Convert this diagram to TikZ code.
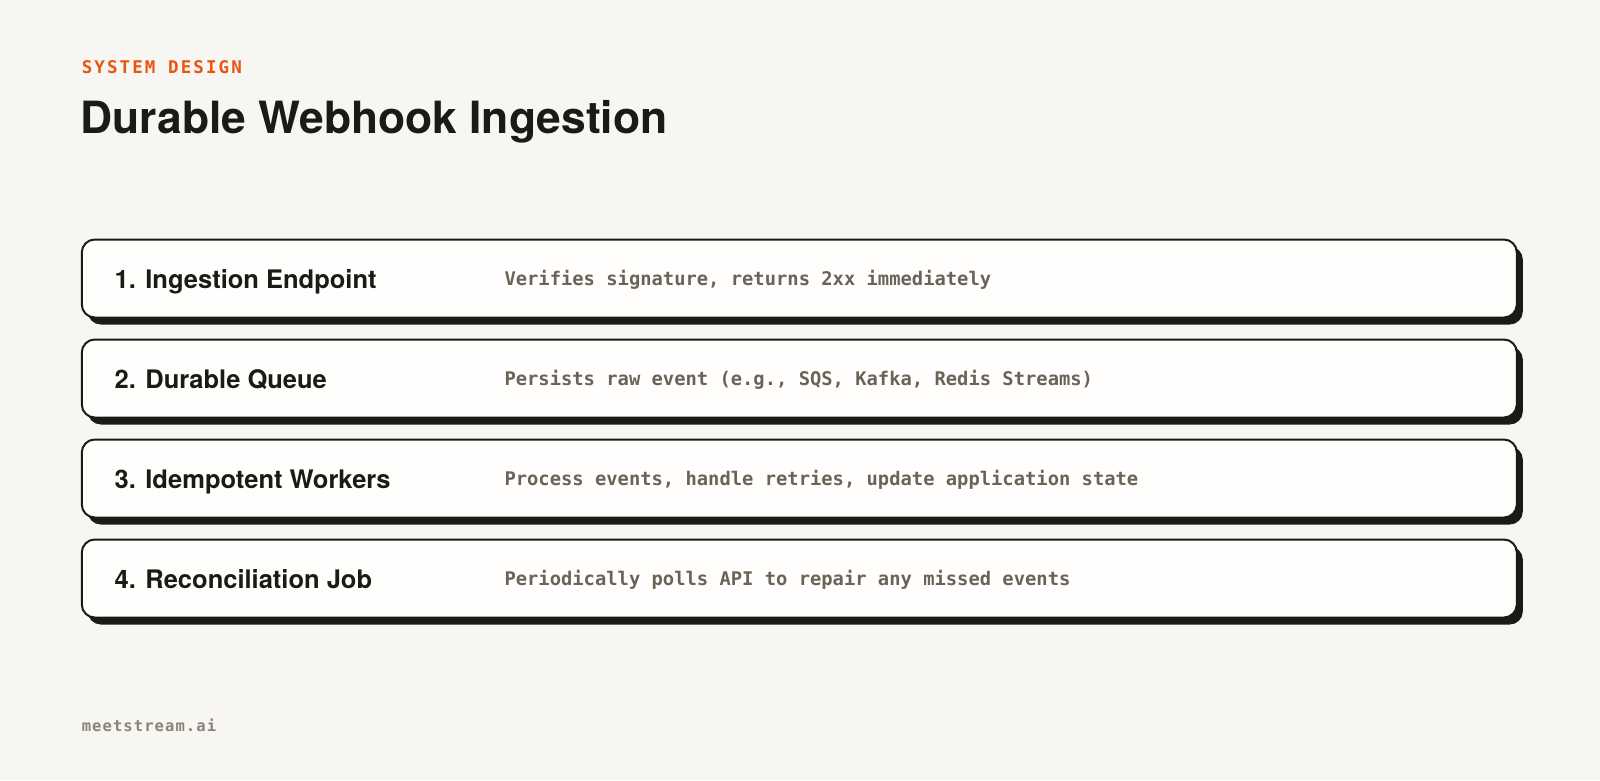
\documentclass[tikz,border=0pt]{standalone}
\usepackage{fontspec}
\usepackage{tikz}
\usetikzlibrary{shadows,positioning}
\setmainfont{TeX Gyre Heros}
\newfontfamily\headfont{TeX Gyre Heros}
\newfontfamily\codefont{DejaVu Sans Mono}
\newfontfamily\kickerfont[LetterSpace=12]{DejaVu Sans Mono}
\newfontfamily\footfont[LetterSpace=7]{DejaVu Sans Mono}
\definecolor{PageBg}{HTML}{F7F6F3}
\definecolor{CardFill}{HTML}{FFFEFC}
\definecolor{InkDark}{HTML}{1C1A16}
\definecolor{KickerOrange}{HTML}{E8560F}
\definecolor{DescGray}{HTML}{6B6358}
\definecolor{FootGray}{HTML}{8C8275}

\begin{document}
\begin{tikzpicture}[x=1pt,y=-1pt,
  stagecard/.style={draw=InkDark, line width=2pt, fill=CardFill, rounded corners=13pt,
    minimum width=1435pt, minimum height=78pt, inner sep=0pt,
    drop shadow={shadow xshift=6pt, shadow yshift=-7pt, opacity=1, fill=InkDark}},
  stagename/.style={anchor=base west, inner sep=0pt, text=InkDark, font=\headfont\bfseries\fontsize{25.5}{28}\selectfont},
  stagedesc/.style={anchor=base west, inner sep=0pt, text=DescGray, font=\codefont\bfseries\fontsize{18.8}{22}\selectfont}]
   \fill[PageBg] (0,0) rectangle (1600,780);
   \useasboundingbox (0,0) rectangle (1600,780);

   \node[anchor=base west, inner sep=0pt, text=KickerOrange, font=\kickerfont\bfseries\fontsize{17.5}{20}\selectfont] (kicker) at (81.6,73.5) {SYSTEM DESIGN};
   \node[anchor=base west, inner sep=0pt, text=InkDark, font=\headfont\bfseries\fontsize{44.4}{50}\selectfont] (title) at (80.5,133) {Durable Webhook Ingestion};

   \foreach \i/\name/\desc in {1/1. Ingestion Endpoint/{Verifies signature, returns 2xx immediately},
                               2/2. Durable Queue/{Persists raw event (e.g., SQS, Kafka, Redis Streams)},
                               3/3. Idempotent Workers/{Process events, handle retries, update application state},
                               4/4. Reconciliation Job/{Periodically polls API to repair any missed events}} {
    \node[stagecard] (card\i) at (799.3,{278.5+100*(\i-1)}) {};
    \node[stagename] (name\i) at ([xshift=33.7pt,yshift=-9.5pt]card\i.west) {\name};
    \node[stagedesc] (desc\i) at ([xshift=423.5pt,yshift=-6.5pt]card\i.west) {\desc};
   }

   \node[anchor=base west, inner sep=0pt, text=FootGray, font=\footfont\bfseries\fontsize{15.5}{18}\selectfont] (brand) at (81.6,731.5) {meetstream.ai};
\end{tikzpicture}
\end{document}
